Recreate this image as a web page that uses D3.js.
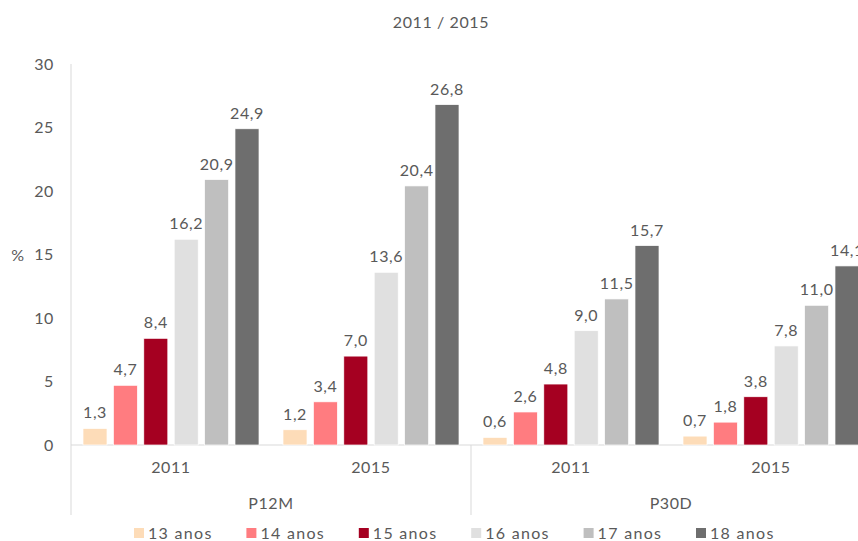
<html>
<head>
<script src="https://d3js.org/d3.v7.min.js"></script>
<style>
  body { margin: 0; background: #fff; }
  text { font-family: "Century Gothic", "Lato", sans-serif; fill: #595959; letter-spacing: 0.6px; }
</style>
</head>
<body>
<script>
// data
const groups = ["P12M", "P30D"];
const years = ["2011", "2015"];
const series = ["13 anos", "14 anos", "15 anos", "16 anos", "17 anos", "18 anos"];
const colors = ["#fddcb8", "#ff7c80", "#a50021", "#e0e0e0", "#bfbfbf", "#6e6e6e"];
// values per series, order: P12M 2011, P12M 2015, P30D 2011, P30D 2015
const v13 = [1.3, 1.2, 0.6, 0.7];
const v14 = [4.7, 3.4, 2.6, 1.8];
const v15 = [8.4, 7.0, 4.8, 3.8];
const v16 = [16.2, 13.6, 9.0, 7.8];
const v17 = [20.9, 20.4, 11.5, 11.0];
const v18 = [24.9, 26.8, 15.7, 14.1];
const yTicks = [0, 5, 10, 15, 20, 25, 30];

const values = [v13, v14, v15, v16, v17, v18];
const cats = [];
groups.forEach(g => years.forEach(y => cats.push(g + "|" + y)));

const W = 858, H = 541;
const svg = d3.select("body").append("svg").attr("width", W).attr("height", H);

const x0 = d3.scaleBand().domain(cats).range([71, 871]);
const x1 = d3.scaleBand().domain(series).range([12, 188]).paddingInner(0.21);
const y = d3.scaleLinear().domain([0, 30]).range([445, 64]);
const fmt = d => d.toFixed(1).replace(".", ",");
const fs = "16px";

// title
svg.append("text").attr("x", 441).attr("y", 28).attr("text-anchor", "middle")
  .style("font-size", fs).text("2011 / 2015");

// y axis
const yAxis = svg.append("g").attr("transform", "translate(71,0)")
  .call(d3.axisLeft(y).tickValues(yTicks).tickSize(0).tickPadding(17));
yAxis.select(".domain").remove();
yAxis.selectAll("text").style("font-size", fs).style("fill", "#595959")
  .style("font-family", "'Century Gothic', Lato, sans-serif");
svg.append("line").attr("x1", 71).attr("x2", 71).attr("y1", 64).attr("y2", 515)
  .attr("stroke", "#d9d9d9");
svg.append("text").attr("x", 18).attr("y", 261).attr("text-anchor", "middle")
  .style("font-size", fs).text("%");

// baseline + group separators
svg.append("line").attr("x1", 71).attr("x2", 871).attr("y1", y(0)).attr("y2", y(0))
  .attr("stroke", "#d9d9d9");
groups.forEach((g, gi) => {
  if (gi > 0) {
    const xs = x0(g + "|" + years[0]);
    svg.append("line").attr("x1", xs).attr("x2", xs).attr("y1", y(0)).attr("y2", 515)
      .attr("stroke", "#d9d9d9");
  }
  const gx = x0(g + "|" + years[0]) + x0.bandwidth();
  svg.append("text").attr("x", gx).attr("y", 509).attr("text-anchor", "middle")
    .style("font-size", fs).text(g);
});

// year labels
svg.selectAll(".yr").data(cats).enter().append("text")
  .attr("x", d => x0(d) + x0.bandwidth() / 2).attr("y", 473)
  .attr("text-anchor", "middle").style("font-size", fs)
  .text(d => d.split("|")[1]);

// bars
const cg = svg.selectAll(".cat").data(cats).enter().append("g")
  .attr("transform", d => "translate(" + x0(d) + ",0)");
cg.each(function(c, ci) {
  const g = d3.select(this);
  series.forEach((s, si) => {
    const v = values[si][ci];
    g.append("rect").attr("x", x1(s)).attr("width", x1.bandwidth())
      .attr("y", y(v)).attr("height", y(0) - y(v))
      .attr("fill", colors[si]).attr("stroke", "#fff").attr("stroke-width", 0.7);
    g.append("text").attr("x", x1(s) + x1.bandwidth() / 2).attr("y", y(v) - 10)
      .attr("text-anchor", "middle").style("font-size", fs).text(fmt(v));
  });
});

// legend
const leg = svg.append("g");
series.forEach((s, i) => {
  const lx = 134 + i * 112.4;
  leg.append("rect").attr("x", lx).attr("y", 528).attr("width", 10).attr("height", 10)
    .attr("fill", colors[i]);
  leg.append("text").attr("x", lx + 14).attr("y", 539).style("font-size", fs)
    .style("letter-spacing", "1.3px").text(s);
});
</script>
</body>
</html>
